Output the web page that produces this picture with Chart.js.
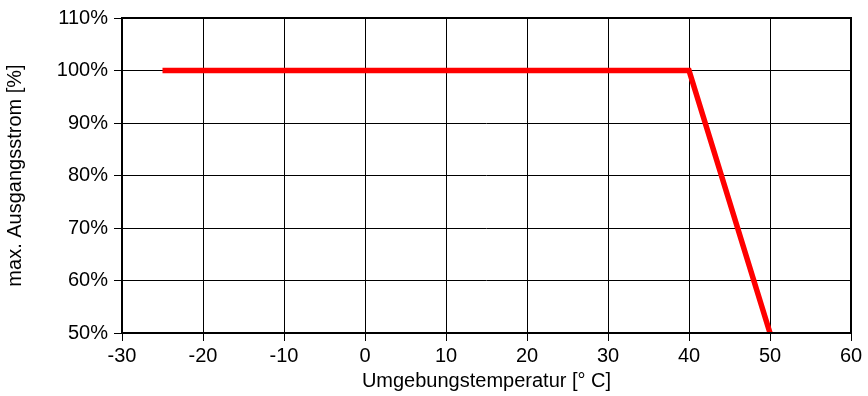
<!DOCTYPE html>
<html>
<head>
<meta charset="utf-8">
<script src="https://cdn.jsdelivr.net/npm/chart.js@4/dist/chart.umd.min.js"></script>
<style>
  html, body { margin: 0; padding: 0; background: #fff; }
  #wrap { width: 868px; height: 396px; position: relative; }
</style>
</head>
<body>
<div id="wrap"><canvas id="derating"></canvas></div>
<script>
// Derating curve: max. output current vs. ambient temperature
const temperatures = [-25, 40, 50];
const currentPercent = [100, 100, 50];
const xTicks = [-30, -20, -10, 0, 10, 20, 30, 40, 50, 60];
const yTicks = [50, 60, 70, 80, 90, 100, 110];

const FONT = 'Liberation Sans, Arial, Helvetica, sans-serif';

// draws the thick frame around the plot area
const frameBox = {
  id: 'frameBox',
  afterDraw(chart) {
    const { ctx, chartArea } = chart;
    ctx.save();
    ctx.strokeStyle = '#000';
    ctx.lineWidth = 2;
    ctx.strokeRect(chartArea.left, chartArea.top, chartArea.right - chartArea.left, chartArea.bottom - chartArea.top);
    ctx.restore();
  },
};

new Chart(document.getElementById('derating'), {
  type: 'line',
  data: {
    datasets: [{
      data: temperatures.map((t, i) => ({ x: t, y: currentPercent[i] })),
      borderColor: '#ff0000',
      borderWidth: 5.5,
      pointRadius: 0,
      tension: 0,
      fill: false,
      borderCapStyle: 'butt',
      borderJoinStyle: 'miter',
    }],
  },
  plugins: [frameBox],
  options: {
    responsive: true,
    maintainAspectRatio: false,
    animation: false,
    layout: { padding: { top: 16, right: 17, left: 0, bottom: 0 } },
    plugins: { legend: { display: false }, tooltip: { enabled: false } },
    scales: {
      x: {
        type: 'linear',
        min: -30,
        max: 60,
        afterBuildTicks: (scale) => { scale.ticks = xTicks.map(v => ({ value: v })); },
        afterFit: (scale) => { scale.height = 63; },
        grid: { color: '#000', lineWidth: 1, tickLength: 8, tickColor: '#000' },
        border: { display: false },
        ticks: { color: '#000', padding: 3, font: { family: FONT, size: 20 } },
        title: {
          display: true,
          text: 'Umgebungstemperatur [° C]',
          color: '#000',
          font: { family: FONT, size: 20 },
          padding: { top: 0, bottom: 3 },
        },
      },
      y: {
        min: 50,
        max: 110,
        afterBuildTicks: (scale) => { scale.ticks = yTicks.map(v => ({ value: v })); },
        afterFit: (scale) => { scale.width = 122; },
        grid: { color: '#000', lineWidth: 1, tickLength: 8, tickColor: '#000' },
        border: { display: false },
        ticks: {
          color: '#000',
          padding: 6,
          font: { family: FONT, size: 20 },
          callback: (v) => v + '%',
        },
        title: {
          display: true,
          text: 'max. Ausgangsstrom [%]',
          color: '#000',
          font: { family: FONT, size: 20 },
          padding: { top: 3, bottom: 0 },
        },
      },
    },
  },
});
</script>
</body>
</html>
